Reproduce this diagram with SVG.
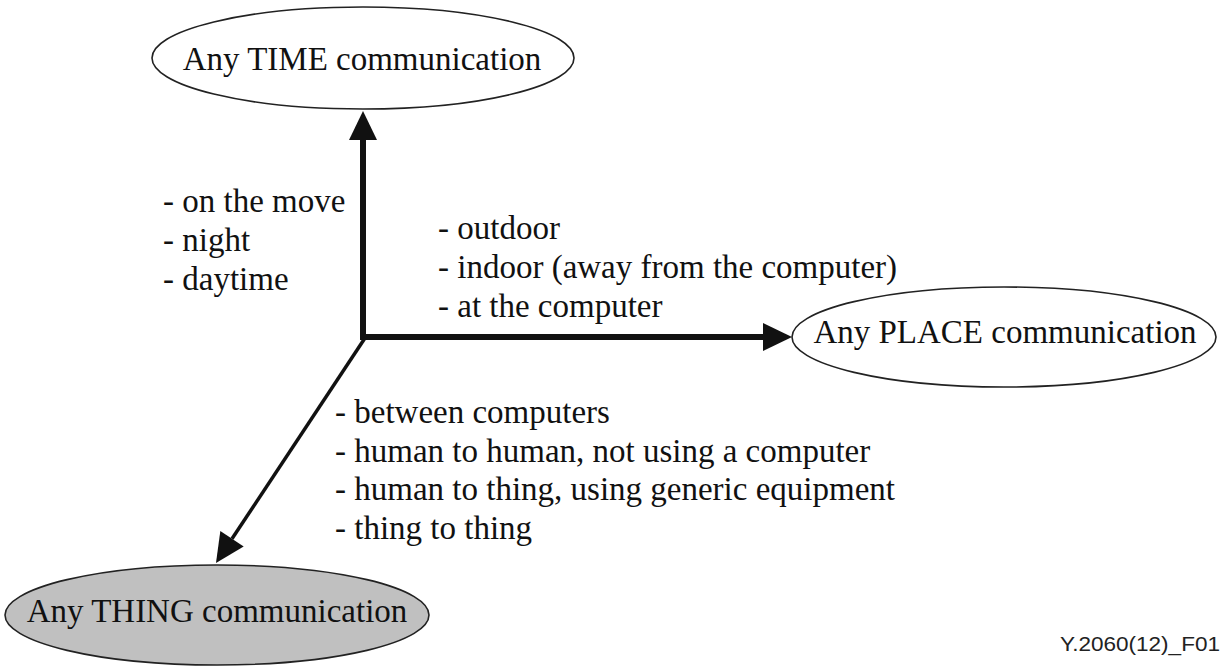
<svg xmlns="http://www.w3.org/2000/svg" width="1225" height="666" viewBox="0 0 1225 666">
<style>
.node ellipse{stroke:#222;stroke-width:1.6}
.title{font-family:"Liberation Serif","Times New Roman",serif;font-size:33px;fill:#111;text-anchor:middle}
.lbl{font-family:"Liberation Serif","Times New Roman",serif;font-size:33px;fill:#111}
.foot{font-family:"Liberation Sans",Arial,sans-serif;font-size:20px;fill:#222}
.axis{stroke:#111;fill:none}
</style>
<defs>
<marker id="ah" viewBox="0 0 29 28" refX="0" refY="14" markerUnits="userSpaceOnUse" markerWidth="29" markerHeight="28" orient="auto" overflow="visible">
<path d="M0,0 L29,14 L0,28 Z" fill="#111"/>
</marker>
</defs>
<rect width="1225" height="666" fill="#fff"/>
<g id="connectors">
<path class="axis" d="M363,340 L363,140" stroke-width="6" marker-end="url(#ah)"/>
<path class="axis" d="M360,337 L763,337" stroke-width="6" marker-end="url(#ah)"/>
<path class="axis" d="M365,338 L232,538.8" stroke-width="3.5" marker-end="url(#ah)"/>
</g>
<g id="time" class="node">
<ellipse cx="363" cy="58" rx="211" ry="51" fill="#fff"/>
<text class="title" x="362" y="70">Any TIME communication</text>
</g>
<g id="place" class="node">
<ellipse cx="1004" cy="337" rx="212" ry="50" fill="#fff"/>
<text class="title" x="1005" y="343">Any PLACE communication</text>
</g>
<g id="thing" class="node">
<ellipse cx="217" cy="615" rx="212" ry="50" fill="#c0c0c0"/>
<text class="title" x="217" y="622">Any THING communication</text>
</g>
<g id="time-labels">
<text class="lbl" x="163" y="212">- on the move</text>
<text class="lbl" x="163" y="251">- night</text>
<text class="lbl" x="163" y="290">- daytime</text>
</g>
<g id="place-labels">
<text class="lbl" x="438" y="239">- outdoor</text>
<text class="lbl" x="438" y="278">- indoor (away from the computer)</text>
<text class="lbl" x="438" y="317">- at the computer</text>
</g>
<g id="thing-labels">
<text class="lbl" x="335" y="423">- between computers</text>
<text class="lbl" x="335" y="461.5">- human to human, not using a computer</text>
<text class="lbl" x="335" y="500">- human to thing, using generic equipment</text>
<text class="lbl" x="335" y="538.5">- thing to thing</text>
</g>
<text class="foot" x="1060" y="651" textLength="160" lengthAdjust="spacingAndGlyphs">Y.2060(12)_F01</text>
</svg>
